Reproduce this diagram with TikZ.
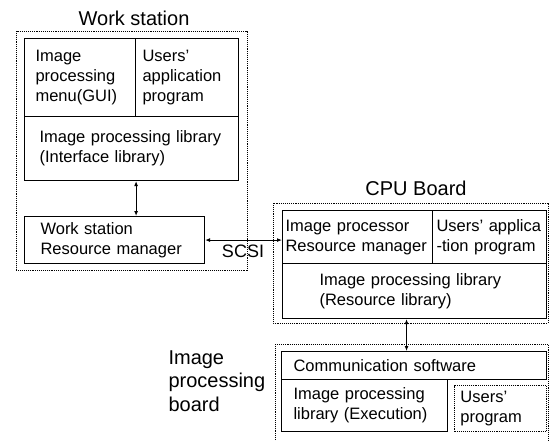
\documentclass[tikz,border=0pt]{standalone}
\usepackage{fontspec}
\setmainfont{Liberation Sans}
\usetikzlibrary{arrows.meta}
\hyphenpenalty=10000

\begin{document}
\begin{tikzpicture}[x=1pt, y=-1pt,
        box/.style={draw, line width=1.1pt, rectangle, anchor=north west, inner ysep=0pt, align=left,
                    font=\fontsize{16.5}{20}\selectfont},
        dotbox/.style={draw, densely dotted, line width=0.9pt},
        title/.style={font=\fontsize{20}{23}\selectfont},
        link/.style={line width=1.1pt, {Latex[length=5pt,width=4pt]}-{Latex[length=5pt,width=4pt]}}]
    \useasboundingbox (0,0) rectangle (551,440);

    % work station
    \draw[dotbox] (16,31) rectangle (247,270);
    \node[title] (wstitle) at (134,18) {Work station};
    \node[box, minimum width=111pt, minimum height=78pt, inner xsep=11pt, text width=89pt] (gui) at (24,38) {Image\\processing\\menu(GUI)};
    \node[box, minimum width=103pt, minimum height=78pt, inner xsep=7pt, text width=89pt] (wsapp) at (135,38) {Users'\\application\\program};
    \node[box, minimum width=214pt, minimum height=64pt, inner xsep=15pt, text width=184pt] (ilib) at (24,116) {Image processing library\\(Interface library)};
    \node[box, minimum width=180pt, minimum height=47pt, inner xsep=16pt, text width=148pt] (wsrm) at (24,216) {Work station\\Resource manager};
    \draw[link] (gui.south east |- ilib.south) -- (gui.south east |- wsrm.north);

    % cpu board
    \draw[dotbox] (273,203) rectangle (548,323);
    \node[title] (cputitle) at (416,188) {CPU Board};
    \node[box, minimum width=150pt, minimum height=53pt, inner xsep=3pt, text width=144pt] (cproc) at (282,210) {Image processor\\Resource manager};
    \node[box, minimum width=114pt, minimum height=53pt, inner xsep=4pt, text width=106pt] (capp) at (432,210) {Users' applica\\-tion program};
    \node[box, minimum width=264pt, minimum height=55pt, inner xsep=37pt, text width=190pt] (rlib) at (282,263) {Image processing library\\(Resource library)};

    % SCSI between the two
    \draw[link] (wsrm.east) -- (wsrm.east -| cproc.west);
    \node[title, font=\fontsize{18}{20}\selectfont] (scsi) at (243,251) {SCSI};

    % image processing board
    \draw[dotbox] (275,344) rectangle (548,442);
    \node[title, anchor=west, align=left, font=\fontsize{20}{23.5}\selectfont] (iplabel) at (165,381) {Image\\processing\\board};
    \node[box, minimum width=265pt, minimum height=28pt, inner xsep=12pt, text width=241pt] (comm) at (281,351) {Communication software};
    \node[box, minimum width=166pt, minimum height=52pt, inner xsep=12pt, text width=142pt] (exec) at (281,379) {Image processing\\library (Execution)};
    \node[box, densely dotted, line width=0.9pt, minimum width=92pt, minimum height=46pt, inner xsep=6pt, text width=80pt] (uprog) at (454,385) {Users'\\program};
    \draw[link] ([xshift=-8pt]rlib.south) -- ([xshift=-8pt]rlib.south |- comm.north);
\end{tikzpicture}
\end{document}
